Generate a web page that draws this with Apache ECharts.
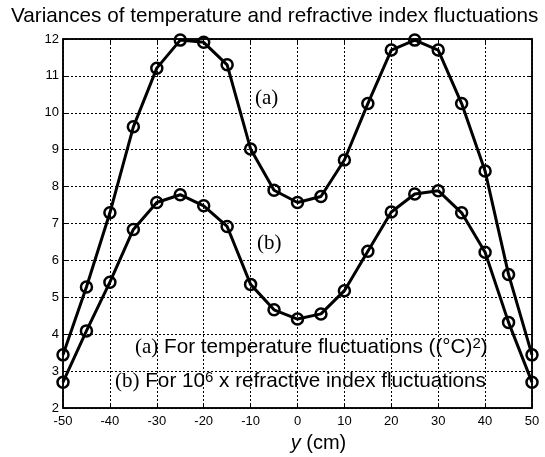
<!DOCTYPE html>
<html><head><meta charset="utf-8">
<script src="https://cdn.jsdelivr.net/npm/echarts@6/dist/echarts.min.js"></script>
<style>html,body{margin:0;padding:0;background:#fff}#c{width:545px;height:457px}</style>
</head><body><div id="c"></div>
<script>
const xValues = [-50,-45,-40,-35,-30,-25,-20,-15,-10,-5,0,5,10,15,20,25,30,35,40,45,50];
const seriesA = [3.44,5.28,7.29,9.62,11.21,11.97,11.91,11.30,9.02,7.90,7.57,7.73,8.72,10.25,11.70,11.97,11.70,10.25,8.42,5.62,3.44];
const seriesB = [2.70,4.09,5.41,6.84,7.57,7.78,7.48,6.92,5.35,4.66,4.41,4.55,5.18,6.25,7.31,7.80,7.89,7.29,6.22,4.32,2.70];
const titleText = 'Variances of temperature and refractive index fluctuations';

const chart = echarts.init(document.getElementById('c'));
const pair = (xs, ys) => xs.map((x, i) => [x, ys[i]]);
const lineSeries = (name, ys) => ({
  name, type: 'line', data: pair(xValues, ys),
  symbol: 'circle', symbolSize: 11,
  lineStyle: {color: '#000', width: 3},
  itemStyle: {color: 'rgba(0,0,0,0)', borderColor: '#000', borderWidth: 2.5},
  emphasis: {disabled: true}, animation: false
});
const gridLine = {show: true, lineStyle: {color: '#000', type: [2, 2], width: 1}};
const SANS = '"Liberation Sans", Arial';
const SERIF = '"Liberation Serif", "Times New Roman", serif';
const frameAxis = {show: true, onZero: false, lineStyle: {color: '#000', width: 1.5}};
const tick = {show: true, inside: true, length: 5, lineStyle: {color: '#000'}};
chart.setOption({
  animation: false,
  title: {text: titleText, left: 11, top: 6, padding: 0,
    textStyle: {fontFamily: SANS, fontSize: 20.7, fontWeight: 'normal', color: '#000'}},
  grid: {left: 63, right: 13, top: 39, bottom: 49, show: true, borderColor: '#000', borderWidth: 1.5,
    containLabel: false, outerBoundsMode: 'none'},
  xAxis: [{
    type: 'value', min: -50, max: 50, interval: 10,
    axisLine: frameAxis, axisTick: tick,
    axisLabel: {color: '#000', fontSize: 13, fontFamily: SANS, margin: 7},
    splitLine: gridLine,
    name: '{i|y} (cm)', nameLocation: 'middle', nameGap: 25,
    nameTextStyle: {color: '#000', fontSize: 20, fontFamily: SANS, padding: [0, 0, 0, 42],
      rich: {i: {fontStyle: 'italic', fontSize: 20, fontFamily: SANS, color: '#000'}}}
  }, {
    type: 'value', position: 'top', min: -50, max: 50, interval: 10,
    axisLine: frameAxis, axisTick: tick,
    axisLabel: {show: false}, splitLine: {show: false}
  }],
  yAxis: [{
    type: 'value', min: 2, max: 12, interval: 1,
    axisLine: frameAxis, axisTick: tick,
    axisLabel: {color: '#000', fontSize: 13, fontFamily: SANS, margin: 4},
    splitLine: gridLine
  }, {
    type: 'value', position: 'right', min: 2, max: 12, interval: 1,
    axisLine: frameAxis, axisTick: tick,
    axisLabel: {show: false}, splitLine: {show: false}
  }],
  series: [lineSeries('(a)', seriesA), lineSeries('(b)', seriesB)],
  graphic: [
    {type: 'text', left: 255, top: 88, style: {text: '(a)', font: '21px ' + SERIF, fill: '#000'}},
    {type: 'text', left: 257, top: 233, style: {text: '(b)', font: '21px ' + SERIF, fill: '#000'}},
    {type: 'text', left: 135, top: 336, style: {
      text: '{s|(a)} For temperature fluctuations ((°C){sup|2})',
      font: '20.7px ' + SANS, fill: '#000',
      rich: {s: {font: '21px ' + SERIF, fill: '#000'},
             sup: {font: '15px ' + SANS, fill: '#000', verticalAlign: 'top', padding: [0,0,8,0]}}
    }},
    {type: 'text', left: 115, top: 370, style: {
      text: '{s|(b)} For 10{sup|6} x refractive index fluctuations',
      font: '20.7px ' + SANS, fill: '#000',
      rich: {s: {font: '21px ' + SERIF, fill: '#000'},
             sup: {font: '15px ' + SANS, fill: '#000', verticalAlign: 'top', padding: [0,0,8,0]}}
    }}
  ]
});
</script></body></html>
